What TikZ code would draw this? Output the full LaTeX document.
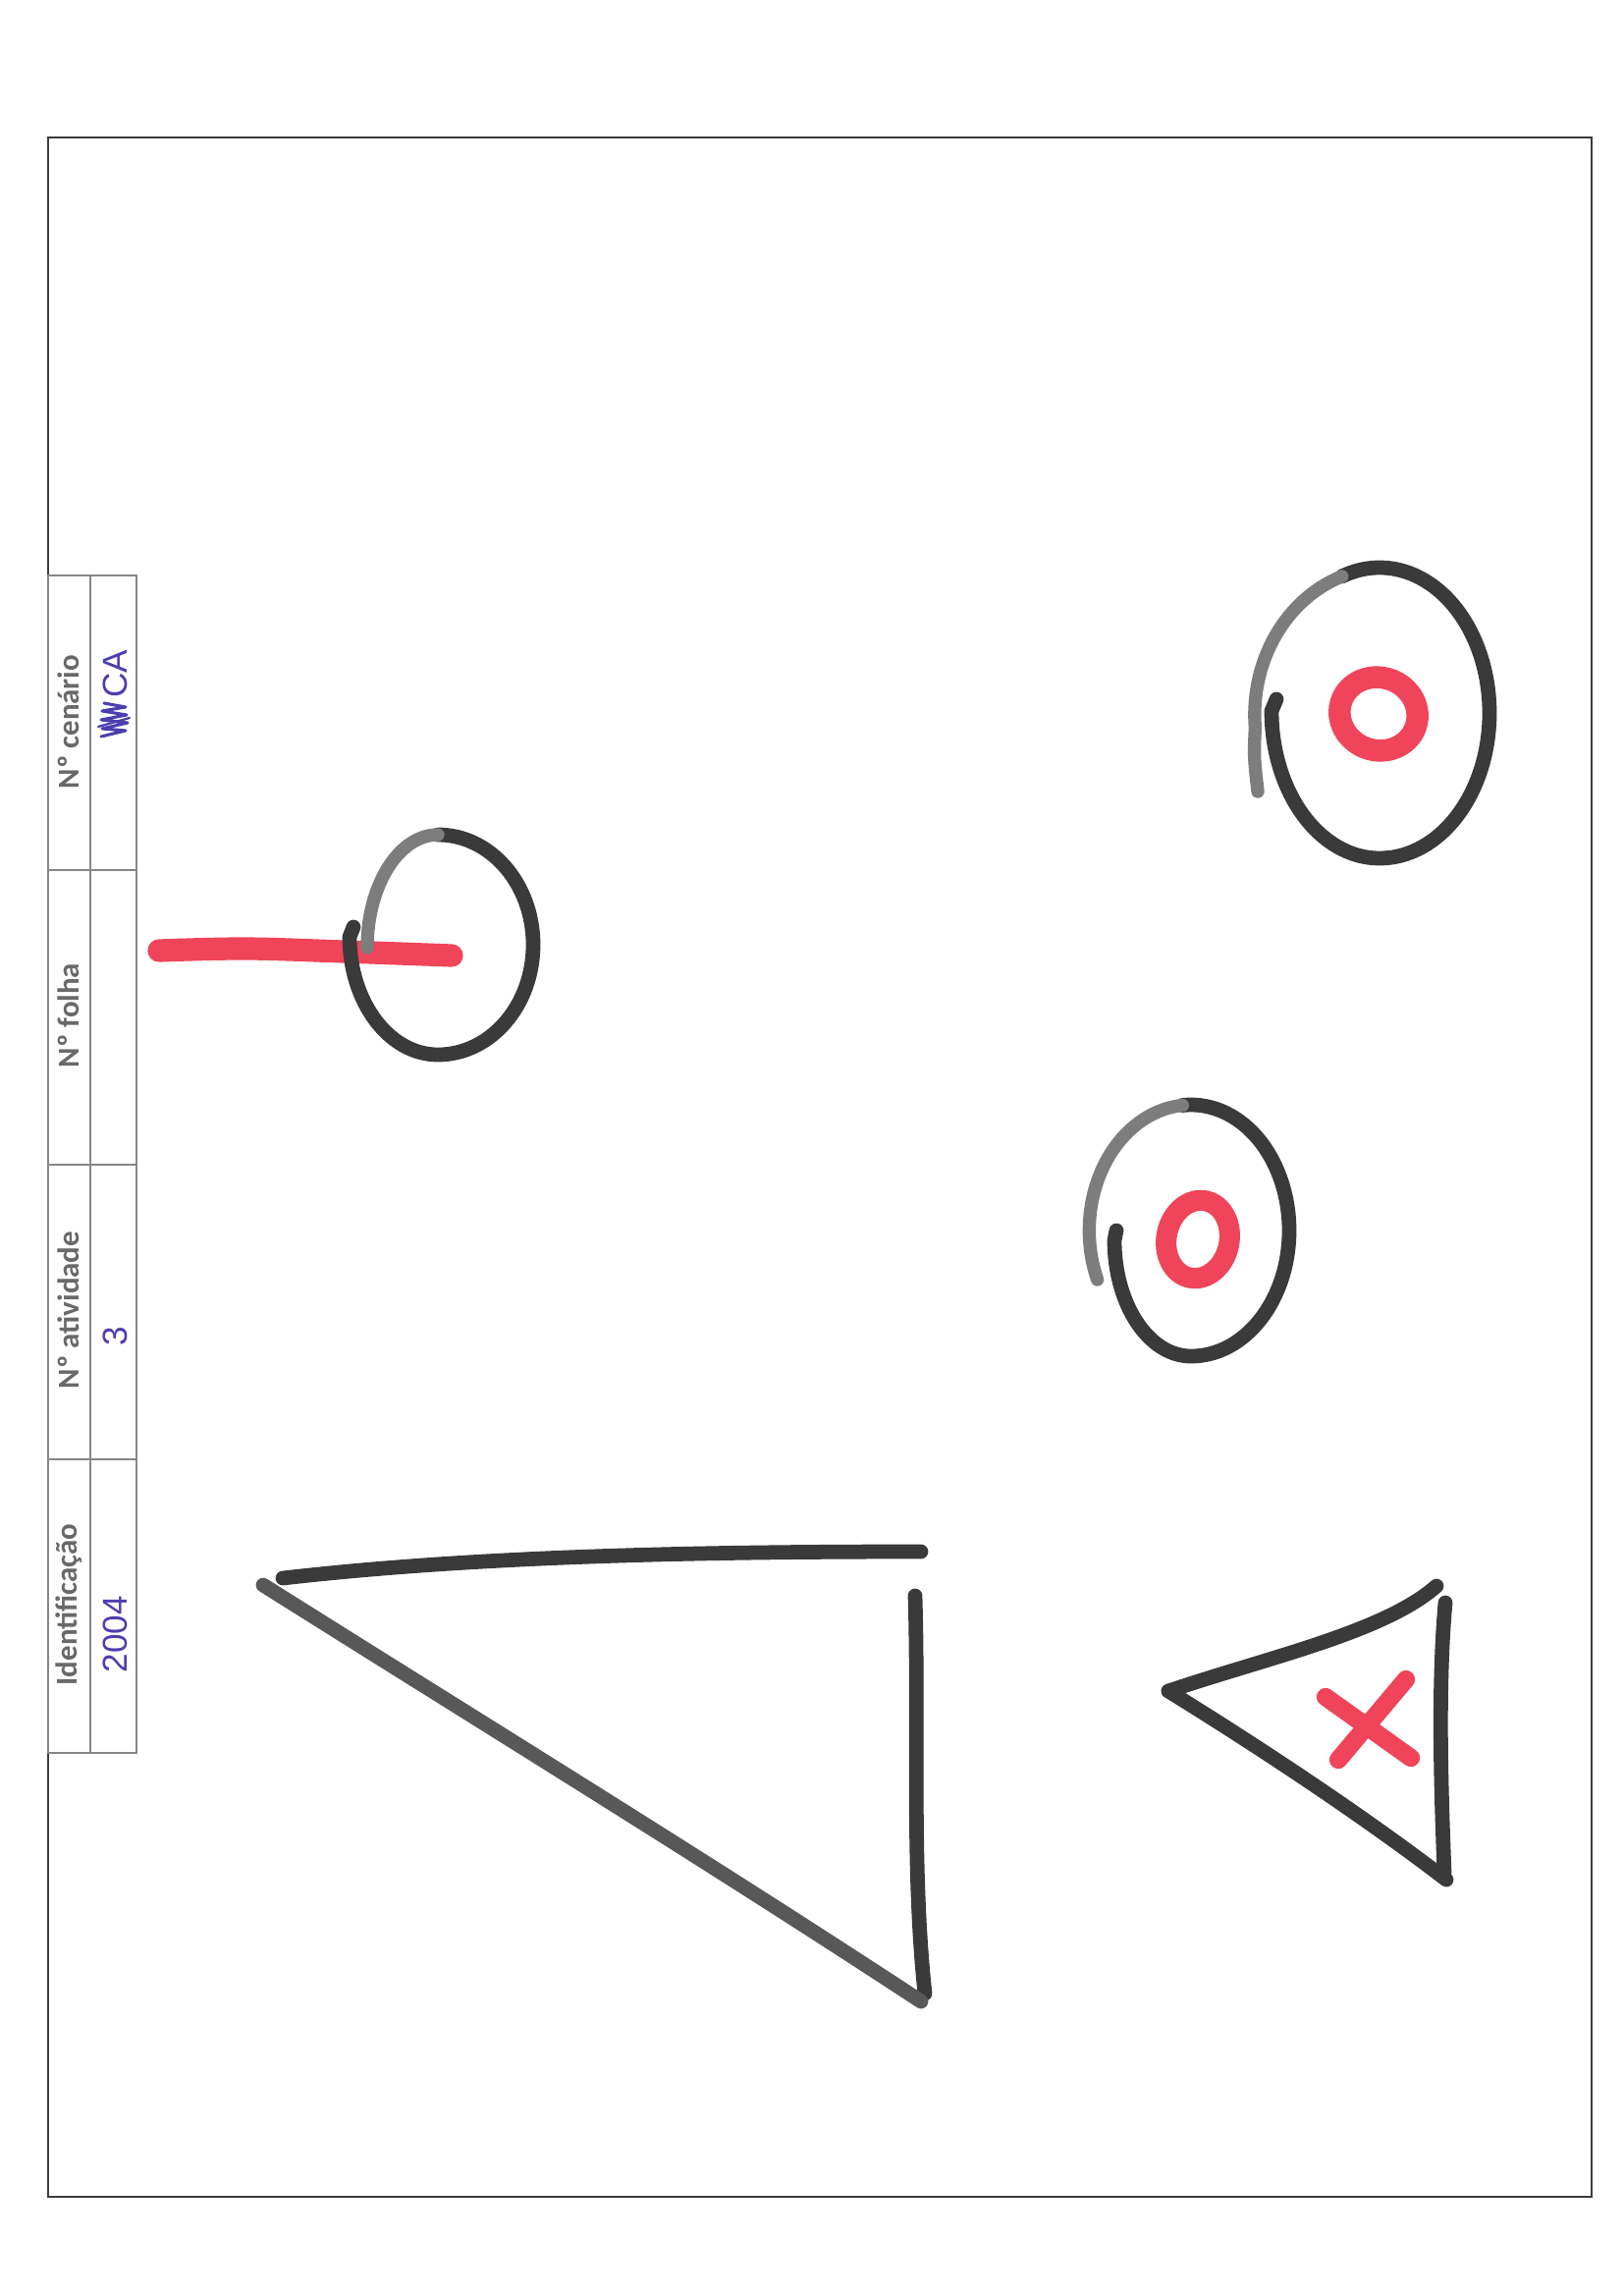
\documentclass[tikz,border=0pt]{standalone}
\usepackage{fontspec}
\newfontfamily\labfont{Carlito}
\newfontfamily\handfont{Liberation Sans}
\definecolor{markgray}{RGB}{58,58,58}
\definecolor{fadegray}{RGB}{125,125,125}
\definecolor{markred}{RGB}{240,68,90}
\definecolor{penblue}{RGB}{75,62,175}
\definecolor{labgray}{RGB}{105,105,105}
\definecolor{framegray}{RGB}{60,60,60}
\tikzset{
  marker/.style={draw=markgray, line width=10.5pt, line cap=round, line join=round},
  fademarker/.style={draw=fadegray, line width=9.5pt, line cap=round, line join=round},
  redmarker/.style={draw=markred, line width=15pt, line cap=round, line join=round},
  framestyle/.style={draw=framegray, line width=1.3pt},
  tablestyle/.style={draw=labgray!80, line width=1.3pt},
  headtext/.style={rotate=90, text=labgray, font=\labfont\bfseries\fontsize{22pt}{26pt}\selectfont, inner sep=0pt},
  handtext/.style={rotate=90, text=penblue, font=\handfont\fontsize{25pt}{30pt}\selectfont, inner sep=0pt},
}
\begin{document}
\begin{tikzpicture}[x=0.025cm, y=-0.025cm]
\path[use as bounding box, fill=white] (0,0) rectangle (1654,2338);

% page frame
\draw[framestyle] (49,140) rectangle (1621,2237);

% table
\draw[tablestyle] (49,586) rectangle (139,1785);
\draw[tablestyle] (92,586) -- (92,1785);
\draw[tablestyle] (49,886) -- (139,886);
\draw[tablestyle] (49,1186) -- (139,1186);
\draw[tablestyle] (49,1486) -- (139,1486);

\node[headtext] (hid) at (70,1634) {Identificação};
\node[headtext] (hact) at (70,1334) {Nº atividade};
\node[headtext] (hsheet) at (70,1034) {Nº folha};
\node[headtext] (hscen) at (70,735) {Nº cenário};

\node[handtext] (vid) at (117,1664) {2004};
\node[handtext] (vact) at (117,1361) {3};
\node[handtext] (vscen) at (117,686) {CA};
% crossed-out scribble
\draw[penblue, line width=2.2pt, line cap=round, line join=round]
  (103,750) -- (128,744) -- (104,742) -- (130,736) -- (103,733) -- (129,728) -- (104,724) -- (128,720) -- (106,716);
\draw[penblue, line width=1.6pt, line cap=round] (100,740) -- (132,731);

% ---- left: red line through open circle ----
\draw[redmarker, line width=16.5pt] plot[smooth, tension=0.6] coordinates {(162,968) (250,966) (350,969) (460,973)};
\draw[marker] (360,944) -- (356,954)
  arc[start angle=180, end angle=90, x radius=90, y radius=120]
  arc[start angle=90, end angle=-90, x radius=97, y radius=112] coordinate (c1top);
\draw[fademarker] (c1top) arc[start angle=-90, end angle=-180, x radius=72, y radius=115];

% ---- top right: open circle with red O ----
\draw[redmarker, line width=16pt] (1404,727) ellipse [x radius=40, y radius=37, rotate=-20];
\draw[marker] (1300,712) -- (1295,724)
  arc[start angle=180, end angle=90, x radius=110, y radius=150]
  arc[start angle=90, end angle=-110, x radius=112, y radius=148] coordinate (c2top);
\draw[fademarker] (c2top) arc[start angle=-110, end angle=-185, x radius=135, y radius=150]
  .. controls (1277,770) .. (1281,806);

% ---- middle right: open circle with red O ----
\draw[redmarker] (1220,1262) ellipse [x radius=32, y radius=40, rotate=-12];
\draw[marker] (1137,1253) -- (1135,1263)
  arc[start angle=180, end angle=90, x radius=78, y radius=118]
  arc[start angle=90, end angle=-95, x radius=100, y radius=128] coordinate (c3top);
\draw[fademarker] (c3top) arc[start angle=-95, end angle=-203, x radius=104, y radius=128];

% ---- big triangle ----
\draw[marker] (288,1607) .. controls (480,1585) and (700,1580) .. (938,1580);
\draw[marker] (932,1625) .. controls (936,1760) and (928,1900) .. (942,2030);
\draw[marker, draw=markgray!85] (268,1614) .. controls (500,1760) and (720,1895) .. (938,2038);

% ---- small triangle with red X ----
\draw[redmarker, line width=13pt] (1350,1728) -- (1437,1790);
\draw[redmarker, line width=13pt] (1432,1710) -- (1363,1792);
\draw[marker] (1190,1722) .. controls (1290,1688) and (1410,1662) .. (1463,1615);
\draw[marker] (1472,1632) .. controls (1464,1720) and (1468,1830) .. (1471,1907);
\draw[marker] (1190,1722) .. controls (1300,1790) and (1400,1858) .. (1473,1914);
\end{tikzpicture}
\end{document}
